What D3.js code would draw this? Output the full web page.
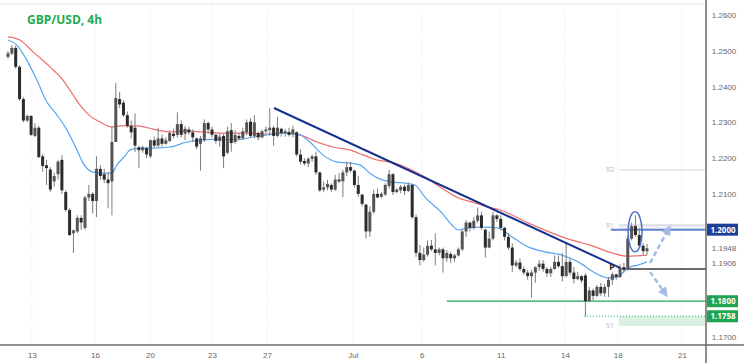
<!DOCTYPE html>
<html>
<head>
<meta charset="utf-8">
<style>
  body { margin: 0; background: #fff; }
  svg { display: block; font-family: "Open Sans", "Liberation Sans", sans-serif; }
  .axis .domain { display: none; }
  .axis text { fill: #666; font-size: 8px; }
</style>
</head>
<body>
<svg width="744" height="363" id="chart"></svg>
<script src="https://d3js.org/d3.v7.min.js"></script>
<script>

// 4h GBP/USD candles
var opens = [1.2483,1.2492,1.2508,1.2455,1.2365,1.2305,1.2318,1.2262,1.2285,1.2205,
  1.2180,1.2168,1.2135,1.2155,1.2195,1.2105,1.2055,1.1990,1.1995,1.2033,
  1.2005,1.2090,1.2100,1.2080,1.2170,1.2155,1.2140,1.2135,1.2245,1.2365,
  1.2355,1.2320,1.2290,1.2285,1.2230,1.2222,1.2228,1.2205,1.2250,1.2235,
  1.2255,1.2240,1.2248,1.2268,1.2265,1.2295,1.2268,1.2280,1.2272,1.2255,
  1.2240,1.2250,1.2298,1.2280,1.2265,1.2248,1.2262,1.2215,1.2278,1.2245,
  1.2262,1.2255,1.2272,1.2302,1.2262,1.2270,1.2258,1.2275,1.2278,1.2285,
  1.2262,1.2282,1.2270,1.2273,1.2268,1.2272,1.2210,1.2192,1.2185,1.2198,
  1.2205,1.2160,1.2112,1.2118,1.2125,1.2112,1.2140,1.2135,1.2160,1.2175,
  1.2165,1.2125,1.2098,1.2070,1.1995,1.2050,1.2100,1.2092,1.2098,1.2122,
  1.2155,1.2105,1.2110,1.2120,1.2108,1.2125,1.2035,1.1935,1.1915,1.1930,
  1.1955,1.1945,1.1935,1.1945,1.1920,1.1932,1.1920,1.1928,1.1945,1.1995,
  1.2020,1.2005,1.2025,1.2040,1.2000,1.1950,1.1975,1.2040,1.2030,1.2005,
  1.1980,1.1950,1.1900,1.1908,1.1890,1.1880,1.1870,1.1880,1.1895,1.1905,
  1.1890,1.1878,1.1890,1.1910,1.1898,1.1870,1.1910,1.1880,1.1862,1.1870,
  1.1872,1.1800,1.1830,1.1815,1.1840,1.1822,1.1840,1.1860,1.1875,1.1868,
  1.1895,1.1890,1.1975,1.2010,1.1985,1.1955,1.1940];
var highs = [1.2499,1.2516,1.2514,1.2460,1.2370,1.2322,1.2320,1.2298,1.2290,1.2212,
  1.2195,1.2175,1.2160,1.2195,1.2208,1.2110,1.2060,1.2000,1.2040,1.2040,
  1.2095,1.2125,1.2105,1.2205,1.2180,1.2170,1.2160,1.2290,1.2410,1.2385,
  1.2362,1.2330,1.2305,1.2325,1.2235,1.2235,1.2232,1.2252,1.2260,1.2285,
  1.2265,1.2258,1.2278,1.2282,1.2328,1.2305,1.2290,1.2287,1.2280,1.2258,
  1.2262,1.2308,1.2302,1.2288,1.2268,1.2268,1.2268,1.2288,1.2298,1.2278,
  1.2270,1.2285,1.2308,1.2312,1.2320,1.2274,1.2280,1.2288,1.2340,1.2290,
  1.2315,1.2285,1.2282,1.2285,1.2290,1.2275,1.2225,1.2200,1.2203,1.2210,
  1.2218,1.2162,1.2135,1.2139,1.2130,1.2153,1.2158,1.2167,1.2190,1.2190,
  1.2168,1.2150,1.2100,1.2072,1.2065,1.2112,1.2115,1.2105,1.2130,1.2167,
  1.2158,1.2116,1.2125,1.2126,1.2132,1.2128,1.2042,1.1957,1.1950,1.1970,
  1.1971,1.1990,1.1950,1.1950,1.1943,1.1938,1.1932,1.1950,1.2000,1.2027,
  1.2022,1.2035,1.2062,1.2050,1.2002,1.1995,1.2050,1.2042,1.2040,1.2008,
  1.1990,1.1962,1.1915,1.1920,1.1897,1.1888,1.1888,1.1898,1.1915,1.1915,
  1.1896,1.1896,1.1928,1.1928,1.1935,1.1965,1.1920,1.1896,1.1882,1.1873,
  1.1878,1.1840,1.1835,1.1845,1.1851,1.1848,1.1868,1.1880,1.1877,1.1903,
  1.1907,1.1985,1.2020,1.2040,1.2005,1.1962,1.1960];
var lows = [1.2478,1.2488,1.2450,1.2360,1.2300,1.2300,1.2262,1.2258,1.2200,1.2162,
  1.2125,1.2105,1.2120,1.2140,1.2100,1.2050,1.1982,1.1935,1.1990,1.2000,
  1.2000,1.2080,1.2045,1.2035,1.2140,1.2130,1.2060,1.2040,1.2245,1.2340,
  1.2315,1.2285,1.2255,1.2217,1.2172,1.2215,1.2200,1.2200,1.2230,1.2230,
  1.2232,1.2238,1.2245,1.2255,1.2258,1.2258,1.2250,1.2266,1.2245,1.2225,
  1.2165,1.2245,1.2268,1.2258,1.2240,1.2232,1.2172,1.2210,1.2218,1.2240,
  1.2250,1.2252,1.2265,1.2258,1.2255,1.2250,1.2255,1.2270,1.2262,1.2235,
  1.2258,1.2260,1.2260,1.2260,1.2258,1.2205,1.2182,1.2180,1.2175,1.2190,
  1.2153,1.2105,1.2105,1.2110,1.2105,1.2108,1.2130,1.2091,1.2150,1.2160,
  1.2118,1.2092,1.2065,1.1975,1.1980,1.2045,1.2088,1.2088,1.2095,1.2115,
  1.2097,1.2102,1.2102,1.2097,1.2105,1.2030,1.1924,1.1900,1.1910,1.1925,
  1.1940,1.1900,1.1928,1.1880,1.1910,1.1907,1.1910,1.1925,1.1940,1.1980,
  1.1995,1.2000,1.2018,1.1999,1.1922,1.1948,1.1970,1.2022,1.1998,1.1970,
  1.1943,1.1882,1.1895,1.1885,1.1873,1.1860,1.1810,1.1852,1.1885,1.1882,
  1.1868,1.1868,1.1888,1.1893,1.1855,1.1868,1.1873,1.1850,1.1859,1.1851,
  1.1758,1.1798,1.1803,1.1812,1.1815,1.1812,1.1812,1.1845,1.1860,1.1865,
  1.1880,1.1885,1.1970,1.1980,1.1950,1.1930,1.1930];
var closes = [1.2493,1.2508,1.2455,1.2365,1.2305,1.2318,1.2265,1.2285,1.2203,1.2178,
  1.2172,1.2112,1.2150,1.2190,1.2110,1.2055,1.1985,1.1998,1.2033,1.2020,
  1.2090,1.2100,1.2080,1.2170,1.2150,1.2140,1.2130,1.2245,1.2368,1.2350,
  1.2320,1.2290,1.2272,1.2235,1.2222,1.2230,1.2210,1.2250,1.2235,1.2255,
  1.2240,1.2250,1.2270,1.2262,1.2295,1.2265,1.2282,1.2272,1.2258,1.2232,
  1.2255,1.2298,1.2280,1.2265,1.2248,1.2260,1.2205,1.2275,1.2242,1.2265,
  1.2255,1.2275,1.2300,1.2262,1.2300,1.2258,1.2275,1.2280,1.2285,1.2262,
  1.2285,1.2270,1.2275,1.2265,1.2280,1.2210,1.2190,1.2185,1.2198,1.2205,
  1.2160,1.2110,1.2118,1.2128,1.2112,1.2140,1.2135,1.2160,1.2175,1.2165,
  1.2125,1.2100,1.2072,1.1995,1.2050,1.2100,1.2090,1.2100,1.2125,1.2155,
  1.2105,1.2112,1.2120,1.2108,1.2125,1.2035,1.1935,1.1915,1.1930,1.1955,
  1.1945,1.1935,1.1945,1.1920,1.1935,1.1920,1.1928,1.1945,1.1995,1.2020,
  1.2005,1.2025,1.2040,1.2005,1.1950,1.1975,1.2040,1.2030,1.2005,1.1980,
  1.1950,1.1900,1.1908,1.1890,1.1880,1.1870,1.1880,1.1895,1.1905,1.1890,
  1.1878,1.1890,1.1910,1.1898,1.1870,1.1910,1.1880,1.1862,1.1870,1.1858,
  1.1800,1.1830,1.1815,1.1840,1.1822,1.1840,1.1860,1.1875,1.1868,1.1895,
  1.1888,1.1975,1.2010,1.1985,1.1955,1.1940,1.1948];

// moving averages, sampled along the drawn curves (candle index, price)
var redIdx = [0,3.1,6.5,10.9,14.3,16.1,18.7,21.3,23.9,27,29.1,33.5,37.7,42.1,46.5,50.6,55.1,59.5,63.6,67.3,71.4,75.8,80.3,84.4,88.8,92.2,95.8,100.5,104.9,108.3,112.7,116.9,121.3,124.7,127.8,135.1,143.9,152.5,156.9,161,166];
var redVal = [1.2539,1.2530,1.2497,1.2455,1.2418,1.2390,1.2348,1.2318,1.2301,1.2287,1.2290,1.2290,1.2281,1.2273,1.2276,1.2273,1.2270,1.2270,1.2270,1.2267,1.2270,1.2265,1.2245,1.2231,1.2223,1.2209,1.2195,1.2186,1.2167,1.2147,1.2116,1.2089,1.2075,1.2063,1.2055,1.2019,1.1980,1.1952,1.1935,1.1926,1.1929];
var blueIdx = [0,2.3,4.9,7.5,10.1,12.7,15.3,17.9,19.5,22.1,24.7,27,28.3,30.4,31.7,34.3,37.7,42.1,46.5,50.6,55.1,59.5,63.6,67.3,71.4,75.8,78.4,81.8,85.5,88.8,91.4,94,96.1,99.7,103.1,105.7,108.3,112.7,115.3,116.9,119.5,123.1,127.3,130.9,135.1,139.5,143.9,148.1,152.5,155.8,158.4,161,163.6,166];
var blueVal = [1.2530,1.2516,1.2474,1.2418,1.2357,1.2321,1.2279,1.2223,1.2186,1.2161,1.2158,1.2158,1.2181,1.2206,1.2223,1.2228,1.2228,1.2231,1.2245,1.2251,1.2253,1.2251,1.2259,1.2265,1.2270,1.2265,1.2245,1.2209,1.2189,1.2186,1.2181,1.2158,1.2144,1.2133,1.2130,1.2125,1.2091,1.2047,1.2013,1.1999,1.2005,1.2007,1.2005,1.1980,1.1952,1.1938,1.1929,1.1910,1.1879,1.1865,1.1868,1.1893,1.1901,1.1910];

// descending trend line (candle index, price)
var trendIdx = [69.1, 159];
var trendVal = [1.2340, 1.1893];

// levels
var r2 = 1.2167, r1 = 1.2013, pivot = 1.1890, s1 = 1.1733;
var level1200 = 1.2000, level1180 = 1.1800, level1758 = 1.1758;
var lastPrice = 1.1948, blueLast = 1.1906;

var dateLabels = ["13","16","20","23","27","Jul","6","11","14","18","21"];
var dateIdx = [6.2,22.6,36.9,53,67.3,89.6,107.5,128,144.7,158.4,175.1];
var priceTicks = [1.26,1.25,1.24,1.23,1.22,1.21,1.17];

var svg = d3.select("#chart"),
    axisX = 706, axisY = 345, topY = 4;

var x = d3.scaleLinear().domain([0, opens.length - 1]).range([8, 647]);
var y = d3.scaleLinear().domain([1.17, 1.26]).range([337, 15]);

var defs = svg.append("defs");
defs.append("clipPath").attr("id", "plot")
  .append("rect").attr("x", 0).attr("y", topY).attr("width", axisX).attr("height", axisY - topY);
defs.append("marker")
    .attr("id", "head").attr("viewBox", "0 0 10 10").attr("refX", 4).attr("refY", 5)
    .attr("markerWidth", 4).attr("markerHeight", 4).attr("orient", "auto")
  .append("path").attr("d", "M0,0L10,5L0,10z").attr("fill", "#a3bbe6");

// frame
svg.append("line").attr("x1", 0).attr("x2", axisX).attr("y1", topY).attr("y2", topY)
  .attr("stroke", "#e3e6ec");

// vertical grid
svg.append("g").selectAll("line").data(dateIdx).enter().append("line")
  .attr("x1", function(d) { return x(d); }).attr("x2", function(d) { return x(d); })
  .attr("y1", topY).attr("y2", axisY)
  .attr("stroke", "#e2e5ea").attr("stroke-dasharray", "1,2");

var plot = svg.append("g").attr("clip-path", "url(#plot)");

// pivot levels and bands
plot.append("rect")
  .attr("x", x(158.7)).attr("width", axisX - x(158.7))
  .attr("y", y(r1)).attr("height", y(level1200) - y(r1))
  .attr("fill", "#eef1f7");
plot.append("rect")
  .attr("x", x(158.7)).attr("width", axisX - x(158.7))
  .attr("y", y(level1758)).attr("height", y(s1) - y(level1758))
  .attr("fill", "#d8f1e0");

function hline(price, fromIdx, color, width, dash) {
  plot.append("line")
    .attr("x1", x(fromIdx)).attr("x2", axisX)
    .attr("y1", y(price)).attr("y2", y(price))
    .attr("stroke", color).attr("stroke-width", width)
    .attr("stroke-dasharray", dash || null);
}
hline(r2, 158.7, "#d3d6dc", 1);
hline(r1, 158.7, "#c9ccd4", 1);
hline(s1, 158.7, "#cfe9d7", 1);
hline(level1180, 114, "#22a65a", 1.2);
hline(level1758, 149.6, "#22a65a", 1, "1,2");
hline(level1200, 156.6, "#5f82d2", 2);
hline(pivot, 159.5, "#3a3a3a", 1.4);

[["R2", r2], ["R1", r1], ["S1", s1]].forEach(function(p) {
  svg.append("text").attr("x", x(156.4)).attr("y", y(p[1]) + 2.5)
    .attr("font-size", 7).attr("fill", "#b9bcc3").attr("text-anchor", "middle").text(p[0]);
});

// moving averages
var line = d3.line().curve(d3.curveMonotoneX)
  .x(function(d) { return x(d[0]); }).y(function(d) { return y(d[1]); });
plot.append("path").datum(d3.zip(redIdx, redVal))
  .attr("d", line).attr("fill", "none").attr("stroke", "#ee6f6f").attr("stroke-width", 1.2);
plot.append("path").datum(d3.zip(blueIdx, blueVal))
  .attr("d", line).attr("fill", "none").attr("stroke", "#5aa6f2").attr("stroke-width", 1.2);

// candles
var candles = d3.range(opens.length).map(function(i) {
  return {i: i, o: opens[i], h: highs[i], l: lows[i], c: closes[i]};
});
var cg = plot.append("g").selectAll("g").data(candles).enter().append("g");
cg.append("line")
  .attr("x1", function(d) { return x(d.i); }).attr("x2", function(d) { return x(d.i); })
  .attr("y1", function(d) { return y(d.h); }).attr("y2", function(d) { return y(d.l); })
  .attr("stroke", "#7d7d7d").attr("stroke-width", 1);
cg.append("rect")
  .attr("x", function(d) { return x(d.i) - 1.5; })
  .attr("width", 3)
  .attr("y", function(d) { return y(Math.max(d.o, d.c)); })
  .attr("height", function(d) { return Math.max(1, Math.abs(y(d.o) - y(d.c))); })
  .attr("fill", function(d) { return d.c >= d.o ? "#555" : "#2b2b2b"; });

// trend line
plot.append("line")
  .attr("x1", x(trendIdx[0])).attr("y1", y(trendVal[0]))
  .attr("x2", x(trendIdx[1])).attr("y2", y(trendVal[1]))
  .attr("stroke", "#15318f").attr("stroke-width", 2);

svg.append("text").attr("x", x(156.9)).attr("y", y(pivot) + 1)
  .attr("font-size", 8.5).attr("font-weight", "bold").attr("fill", "#222")
  .attr("text-anchor", "middle").text("P");

// highlighted rejection and scenario arrows
plot.append("ellipse")
  .attr("cx", x(162.9)).attr("cy", y(1.1994)).attr("rx", 7).attr("ry", 20)
  .attr("fill", "none").attr("stroke", "#4d73c6").attr("stroke-width", 1.5);
[[166.8, 1.1907, 171.4, 1.1998], [166.8, 1.1882, 170.5, 1.1825]].forEach(function(a) {
  plot.append("line")
    .attr("x1", x(a[0])).attr("y1", y(a[1])).attr("x2", x(a[2])).attr("y2", y(a[3]))
    .attr("stroke", "#a3bbe6").attr("stroke-width", 2.5)
    .attr("stroke-dasharray", "5,3").attr("marker-end", "url(#head)");
});

// axes
svg.append("line").attr("x1", 0).attr("x2", 744).attr("y1", axisY).attr("y2", axisY)
  .attr("stroke", "#6b6b6b").attr("stroke-width", 1.5);
svg.append("line").attr("x1", axisX).attr("x2", axisX).attr("y1", 0).attr("y2", 363)
  .attr("stroke", "#6b6b6b").attr("stroke-width", 1.5);

svg.append("g").attr("class", "axis")
  .attr("transform", "translate(0," + (axisY + 4) + ")")
  .call(d3.axisBottom(x).tickValues(dateIdx).tickSize(0)
    .tickFormat(function(d, i) { return dateLabels[i]; }));

svg.append("g").attr("class", "axis")
  .attr("transform", "translate(" + (axisX + 18) + ",0)")
  .call(d3.axisRight(y).tickValues(priceTicks.concat([lastPrice, blueLast])).tickSize(0)
    .tickFormat(d3.format(".4f")))
  .selectAll("text").attr("text-anchor", "middle").attr("x", 0);

[[level1200, "#1e3f98"], [level1180, "#1fa552"], [level1758, "#1fa552"]].forEach(function(b) {
  svg.append("rect").attr("x", axisX + 1).attr("y", y(b[0]) - 6)
    .attr("width", 31).attr("height", 12).attr("fill", b[1]);
  svg.append("text").attr("x", axisX + 17).attr("y", y(b[0]) + 3)
    .attr("font-size", 8).attr("font-weight", "bold").attr("fill", "#fff")
    .attr("text-anchor", "middle").text(d3.format(".4f")(b[0]));
});

svg.append("text").attr("x", 27).attr("y", 24)
  .attr("font-size", 12).attr("font-weight", "bold").attr("fill", "#1fac4c")
  .text("GBP/USD, 4h");

</script>
</body>
</html>
